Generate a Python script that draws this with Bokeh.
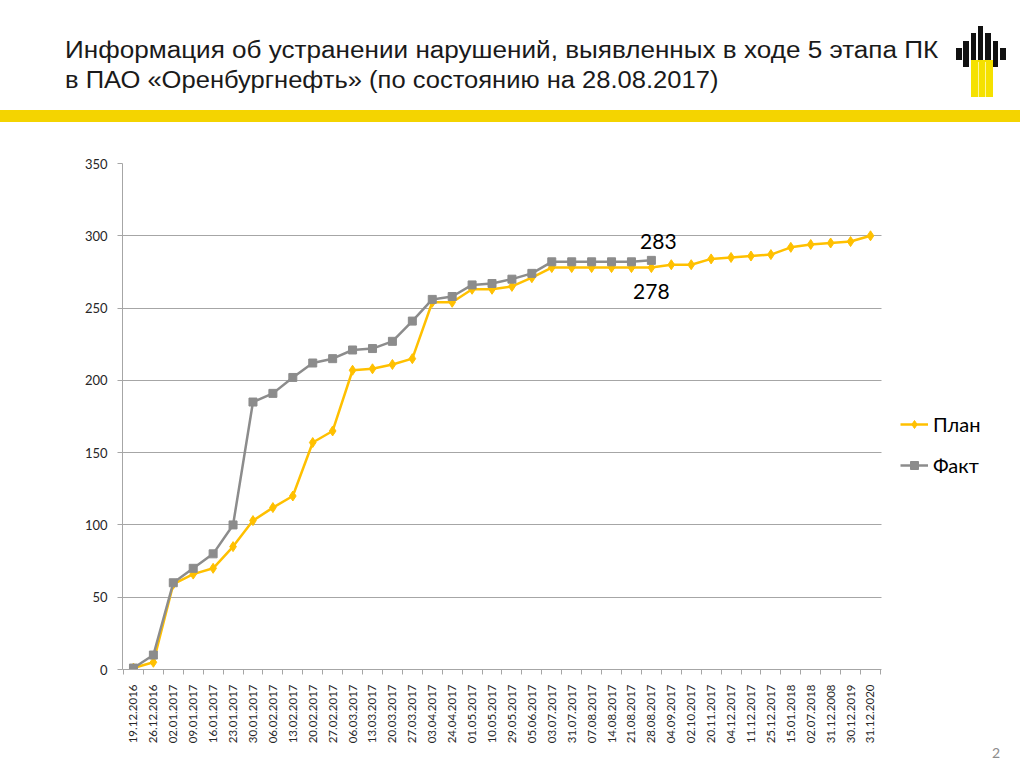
import math
from bokeh.plotting import figure
from bokeh.models import Range1d, FixedTicker, Legend, LegendItem, Div
from bokeh.layouts import column
from bokeh.embed import file_html
from bokeh.resources import INLINE
from bokeh.core.properties import value

# ---------------- data ----------------
dates = ["19.12.2016", "26.12.2016", "02.01.2017", "09.01.2017", "16.01.2017",
         "23.01.2017", "30.01.2017", "06.02.2017", "13.02.2017", "20.02.2017",
         "27.02.2017", "06.03.2017", "13.03.2017", "20.03.2017", "27.03.2017",
         "03.04.2017", "24.04.2017", "01.05.2017", "10.05.2017", "29.05.2017",
         "05.06.2017", "03.07.2017", "31.07.2017", "07.08.2017", "14.08.2017",
         "21.08.2017", "28.08.2017", "04.09.2017", "02.10.2017", "20.11.2017",
         "04.12.2017", "11.12.2017", "25.12.2017", "15.01.2018", "02.07.2018",
         "31.12.2008", "30.12.2019", "31.12.2020"]

plan = [1, 5, 59, 66, 70, 85, 103, 112, 120, 157, 165, 207, 208, 211, 215,
        254, 254, 263, 263, 265, 271, 278, 278, 278, 278, 278, 278, 280, 280,
        284, 285, 286, 287, 292, 294, 295, 296, 300]

fact = [1, 10, 60, 70, 80, 100, 185, 191, 202, 212, 215, 221, 222, 227, 241,
        256, 258, 266, 267, 270, 274, 282, 282, 282, 282, 282, 283]

y_ticks = [0, 50, 100, 150, 200, 250, 300, 350]
series_names = ["План", "Факт"]
title_lines = ["Информация об устранении нарушений, выявленных в ходе 5 этапа ПК",
               "в ПАО «Оренбургнефть» (по состоянию на 28.08.2017)"]
page_number = "2"

PLAN_C = "#FFC000"
FACT_C = "#8C8C8C"
GRID_C = "#A6A6A6"
TEXT_C = "#262626"
BRAND_Y = "#F4D400"

W = 1020

# ---------------- header (HTML) ----------------
def box(l, t, w, h, c):
    return (f'<div style="position:absolute;left:{l}px;top:{t}px;width:{w}px;'
            f'height:{h}px;background:{c};"></div>')

def title_style(top, sx):
    return ("position:absolute;left:65px;white-space:nowrap;font-family:'Liberation Sans';"
            "font-size:23px;line-height:23px;color:#1a1a1a;"
            f"transform:scaleX({sx});transform-origin:0 0;top:{top}px;")

parts = [f'<div style="position:relative;width:{W}px;height:128px;overflow:hidden;">']
parts.append(f'<div style="{title_style(39, 1.135)}">{title_lines[0]}</div>')
parts.append(f'<div style="{title_style(69, 1.11)}">{title_lines[1]}</div>')
parts.append(box(0, 110, W, 12, BRAND_Y))
bar_l = [956, 963, 970.5, 977.5, 985, 992.5, 1000]
bar_t = [48, 41, 33, 26, 33, 41, 48]
bar_b = [60, 67, 62, 62, 62, 67, 60]
for l, t, b in zip(bar_l, bar_t, bar_b):
    parts.append(box(l, t, 5.5, b - t, "#111111"))
parts.append(box(971, 60, 21.5, 37, "#F5E100"))
parts.append(box(977.5, 62, 1, 35, "#FFF59A"))
parts.append(box(985, 62, 1, 35, "#FFF59A"))
parts.append('</div>')
header = Div(text="".join(parts), width=W, height=128, margin=0)

footer = Div(text=(f'<div style="position:relative;width:{W}px;height:20px;">'
                   f'<div style="position:absolute;left:986px;top:0px;width:20px;text-align:center;'
                   f'font-family:Lato;font-size:14px;line-height:14px;color:#8C8C8C;">'
                   f'{page_number}</div></div>'),
             width=W, height=20, margin=0)

# ---------------- chart ----------------
LEFT = 122
CAT_PX = 19.92
x_lo, x_hi = -0.55, len(dates) - 1 + 0.55
x_end = x_lo + (W - LEFT) / CAT_PX  # frame extends to the right edge (room for legend)

p = figure(width=W, height=618, x_range=Range1d(x_lo, x_end), y_range=Range1d(0, 350),
           output_backend="svg", toolbar_location=None,
           min_border_left=LEFT, min_border_right=0, min_border_top=35, min_border_bottom=76)
p.outline_line_color = None
p.xgrid.visible = False

try:
    p.ygrid.cross_bounds = (x_lo, x_hi)
    p.ygrid.ticker = FixedTicker(ticks=y_ticks)
    p.ygrid.grid_line_color = GRID_C
except Exception:
    p.ygrid.visible = False
    p.segment(x0=[x_lo] * len(y_ticks), y0=y_ticks, x1=[x_hi] * len(y_ticks), y1=y_ticks,
              line_color=GRID_C, line_width=1)

p.yaxis.ticker = FixedTicker(ticks=y_ticks)
p.yaxis.axis_line_color = GRID_C
p.yaxis.major_tick_line_color = GRID_C
p.yaxis.major_tick_out = 5
p.yaxis.major_tick_in = 0
p.yaxis.minor_tick_line_color = None
p.yaxis.major_label_standoff = 10
p.yaxis.major_label_text_font = "Lato"
p.yaxis.major_label_text_font_size = "13px"
p.yaxis.major_label_text_color = TEXT_C

idx = list(range(len(dates)))
p.xaxis.bounds = (x_lo, x_hi)
p.xaxis.ticker = FixedTicker(ticks=idx, minor_ticks=[i - 0.5 for i in range(len(dates) + 1)])
p.xaxis.major_label_overrides = {i: d for i, d in enumerate(dates)}
p.xaxis.major_label_orientation = math.pi / 2
p.xaxis.axis_line_color = GRID_C
p.xaxis.major_tick_out = 0
p.xaxis.major_tick_in = 0
p.xaxis.minor_tick_out = 5
p.xaxis.minor_tick_in = 0
p.xaxis.minor_tick_line_color = GRID_C
p.xaxis.major_label_standoff = 10
p.xaxis.major_label_text_font = "Lato"
p.xaxis.major_label_text_font_size = "11.5px"
p.xaxis.major_label_text_color = TEXT_C

fidx = list(range(len(fact)))
pl = p.line(idx, plan, line_color=PLAN_C, line_width=2.5)
ps = p.scatter(idx, plan, marker="diamond", size=10, color=PLAN_C)
fl = p.line(fidx, fact, line_color=FACT_C, line_width=2.5)
fs = p.scatter(fidx, fact, marker="square", size=8, color=FACT_C)

last = len(fact) - 1
p.text(x=[last], y=[fact[last]], text=[str(fact[last])], text_font=value("Lato"),
       text_font_size="21px", text_align="center", text_baseline="middle",
       x_offset=7, y_offset=-19, text_color="#000000")
p.text(x=[last], y=[plan[last]], text=[str(plan[last])], text_font=value("Lato"),
       text_font_size="21px", text_align="center", text_baseline="middle",
       x_offset=0, y_offset=24, text_color="#000000")

legend = Legend(items=[LegendItem(label=series_names[0], renderers=[pl, ps]),
                       LegendItem(label=series_names[1], renderers=[fl, fs])],
                location=(778, 192), orientation="vertical",
                glyph_width=28, glyph_height=20, label_height=20, label_standoff=5,
                spacing=17, padding=10, margin=0,
                label_text_font="Lato", label_text_font_size="20px",
                label_text_color="#000000",
                border_line_color=None, background_fill_alpha=0)
p.add_layout(legend)

layout = column(header, p, footer, spacing=0)
open("out.html", "w").write(file_html(layout, INLINE))
